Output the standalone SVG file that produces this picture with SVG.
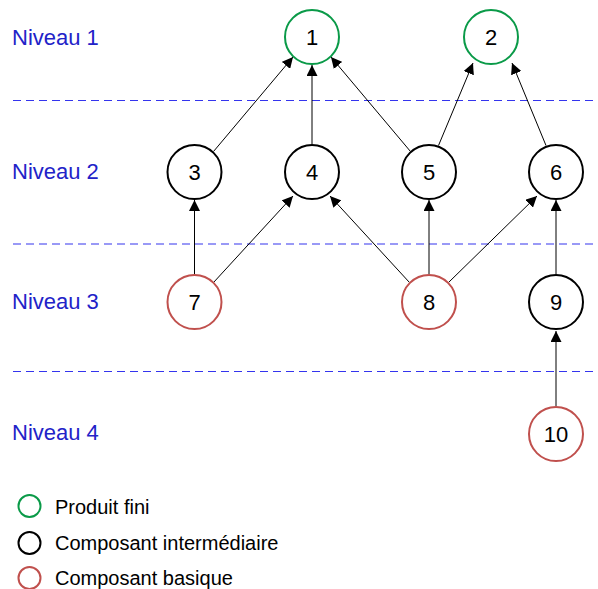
<svg xmlns="http://www.w3.org/2000/svg" width="598" height="589" viewBox="0 0 598 589">
  <style>
    .lvl { font-family: "Liberation Sans", Arial, sans-serif; font-size: 22px; fill: #2222c8; }
    .sep { stroke: #3434ee; stroke-width: 1.2; stroke-dasharray: 8 5; fill: none; }
    .node circle { fill: #fff; stroke-width: 2; }
    .node text { font-family: "Liberation Sans", Arial, sans-serif; font-size: 22px; fill: #000; text-anchor: middle; dominant-baseline: central; }
    .fini { stroke: #0a9a48; }
    .inter { stroke: #000; }
    .base { stroke: #c0504d; }
    .edge { stroke: #000; stroke-width: 1; fill: none; marker-end: url(#arrow); }
    .leg circle { fill: #fff; stroke-width: 2; }
    .leg text { font-family: "Liberation Sans", Arial, sans-serif; font-size: 20px; fill: #000; dominant-baseline: central; }
  </style>
  <defs>
    <marker id="arrow" viewBox="0 0 10 10" refX="10" refY="5" markerWidth="11" markerHeight="11" markerUnits="userSpaceOnUse" orient="auto">
      <path d="M0,0 L10,5 L0,10 z" fill="#000"/>
    </marker>
  </defs>
  <rect width="598" height="589" fill="#fff"/>

  <!-- level labels and separators -->
  <g id="levels">
    <text class="lvl" x="12" y="45">Niveau 1</text>
    <text class="lvl" x="12" y="179">Niveau 2</text>
    <text class="lvl" x="12" y="309">Niveau 3</text>
    <text class="lvl" x="12" y="440">Niveau 4</text>
    <line class="sep" x1="13" y1="100.5" x2="598" y2="100.5"/>
    <line class="sep" x1="13" y1="244" x2="598" y2="244"/>
    <line class="sep" x1="13" y1="371.5" x2="598" y2="371.5"/>
  </g>

  <!-- connectors (child to parent) -->
  <g id="connectors">
    <line class="edge" x1="213.5" y1="151.5" x2="293" y2="57"/>
    <line class="edge" x1="312" y1="144" x2="312" y2="65"/>
    <line class="edge" x1="410.5" y1="151.5" x2="331" y2="57"/>
    <line class="edge" x1="438.5" y1="145.5" x2="473" y2="63"/>
    <line class="edge" x1="546" y1="145.5" x2="512" y2="63"/>
    <line class="edge" x1="194.5" y1="274" x2="194.5" y2="200"/>
    <line class="edge" x1="213.5" y1="282.5" x2="293" y2="196"/>
    <line class="edge" x1="409.5" y1="282.5" x2="330" y2="196"/>
    <line class="edge" x1="429" y1="274" x2="429" y2="200"/>
    <line class="edge" x1="448.5" y1="282.5" x2="537" y2="196"/>
    <line class="edge" x1="556" y1="274" x2="556" y2="200"/>
    <line class="edge" x1="556" y1="406" x2="556" y2="331"/>
  </g>

  <g id="n1" class="node"><circle class="fini" cx="312" cy="37" r="27"/><text x="312" y="37">1</text></g>
  <g id="n2" class="node"><circle class="fini" cx="491" cy="37" r="27"/><text x="491" y="37">2</text></g>
  <g id="n3" class="node"><circle class="inter" cx="194.5" cy="172" r="27"/><text x="194.5" y="172">3</text></g>
  <g id="n4" class="node"><circle class="inter" cx="312" cy="172" r="27"/><text x="312" y="172">4</text></g>
  <g id="n5" class="node"><circle class="inter" cx="429" cy="172" r="27"/><text x="429" y="172">5</text></g>
  <g id="n6" class="node"><circle class="inter" cx="556" cy="172" r="27"/><text x="556" y="172">6</text></g>
  <g id="n7" class="node"><circle class="base" cx="194.5" cy="302" r="27"/><text x="194.5" y="302">7</text></g>
  <g id="n8" class="node"><circle class="base" cx="429" cy="302" r="27"/><text x="429" y="302">8</text></g>
  <g id="n9" class="node"><circle class="inter" cx="556" cy="302" r="27"/><text x="556" y="302">9</text></g>
  <g id="n10" class="node"><circle class="base" cx="556" cy="434" r="27"/><text x="556" y="434">10</text></g>

  <!-- legend -->
  <g id="legend" class="leg">
    <circle class="fini" cx="29.5" cy="506" r="11"/>
    <text x="55" y="507">Produit fini</text>
    <circle class="inter" cx="29.5" cy="543" r="11"/>
    <text x="55" y="543">Composant intermédiaire</text>
    <circle class="base" cx="29.5" cy="578" r="11"/>
    <text x="55" y="578">Composant basique</text>
  </g>
</svg>
